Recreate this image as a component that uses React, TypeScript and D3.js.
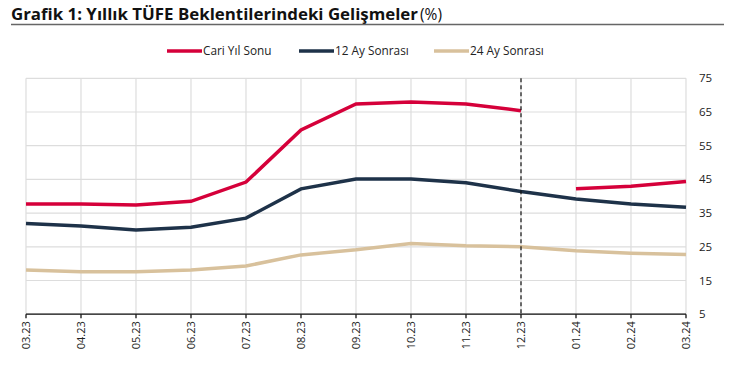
import React from "react";
import * as d3 from "d3";

const categories = ["03.23","04.23","05.23","06.23","07.23","08.23","09.23","10.23","11.23","12.23","01.24","02.24","03.24"];
const cariYilSonu: (number | null)[] = [37.7,37.7,37.4,38.5,44.2,59.7,67.4,68.0,67.4,65.4,42.2,43.0,44.4];
const ay12: number[] = [31.9,31.2,30.0,30.8,33.5,42.2,45.1,45.1,44.0,41.4,39.2,37.7,36.7];
const ay24: number[] = [18.1,17.6,17.6,18.1,19.3,22.6,24.1,26.0,25.3,25.0,23.8,23.1,22.7];
const yTicks = [5,15,25,35,45,55,65,75];
const dividerCategory = "12.23";
const breakAfter = "12.23";

const W = 733, H = 381;
const FONT = "'Open Sans', 'Noto Sans', sans-serif";

export default function App() {
  const x = d3.scalePoint<string>().domain(categories).range([26, 686]);
  const y = d3.scaleLinear().domain([5, 75]).range([314.2, 78.3]);

  const breakIdx = categories.indexOf(breakAfter);
  const line = (vals: (number | null)[]) =>
    d3.line<number | null>()
      .defined((d) => d != null)
      .x((d, i) => x(categories[i])!)
      .y((d) => y(d as number))(vals) as string;

  const redA = cariYilSonu.map((v, i) => (i <= breakIdx ? v : null));
  const redB = cariYilSonu.map((v, i) => (i > breakIdx ? v : null));

  const series = [
    { name: "Cari Yıl Sonu", color: "#D5003A" },
    { name: "12 Ay Sonrası", color: "#1E3249" },
    { name: "24 Ay Sonrası", color: "#D8C19C" },
  ];
  const legendX = [167, 299, 434];

  return (
    <svg width={W} height={H} style={{ position: "absolute", left: 0, top: 0, background: "#fff" }} fontFamily={FONT}>
      <rect x={0} y={0} width={W} height={H} fill="#fff" />
      <text x={11} y={20} fontSize={15.5} fontWeight={700} fill="#111" textLength={407} lengthAdjust="spacingAndGlyphs">
        Grafik 1: Yıllık TÜFE Beklentilerindeki Gelişmeler
      </text>
      <text x={420} y={20} fontSize={15.5} fontWeight={400} fill="#111" textLength={22} lengthAdjust="spacingAndGlyphs">(%)</text>
      <line x1={11} x2={724} y1={24.5} y2={24.5} stroke="#666" strokeWidth={1.5} />

      {series.map((s, i) => (
        <g key={s.name}>
          <line x1={legendX[i]} x2={legendX[i] + 35} y1={51} y2={51} stroke={s.color} strokeWidth={3.5} />
          <text x={legendX[i] + 36} y={55} fontSize={11.8} fill="#222">{s.name}</text>
        </g>
      ))}

      {yTicks.map((t) => (
        <g key={t}>
          <line x1={26} x2={686} y1={y(t)} y2={y(t)} stroke="#dddddd" strokeWidth={1.2} />
          <text x={699} y={y(t) + 4} fontSize={11.5} fill="#222">{t}</text>
        </g>
      ))}
      {categories.map((c) => (
        <line key={c} x1={x(c)} x2={x(c)} y1={y(75)} y2={y(5)} stroke="#dddddd" strokeWidth={1.2} />
      ))}

      <path d={line(ay24)} fill="none" stroke={series[2].color} strokeWidth={3.5} />
      <path d={line(ay12)} fill="none" stroke={series[1].color} strokeWidth={3.5} />
      <path d={line(redA)} fill="none" stroke={series[0].color} strokeWidth={3.5} />
      <path d={line(redB)} fill="none" stroke={series[0].color} strokeWidth={3.5} />

      <line x1={x(dividerCategory)} x2={x(dividerCategory)} y1={y(75)} y2={y(5)} stroke="#111" strokeWidth={1.2} strokeDasharray="4,3" />

      <line x1={26} x2={686} y1={y(5)} y2={y(5)} stroke="#111" strokeWidth={1.3} />
      {categories.map((c) => (
        <g key={c}>
          <line x1={x(c)} x2={x(c)} y1={y(5)} y2={y(5) + 4} stroke="#111" strokeWidth={1.3} />
          <text
            transform={`translate(${x(c)! + 4},${y(5) + 7}) rotate(-90)`}
            textAnchor="end"
            fontSize={11}
            fill="#222"
          >{c}</text>
        </g>
      ))}
    </svg>
  );
}
